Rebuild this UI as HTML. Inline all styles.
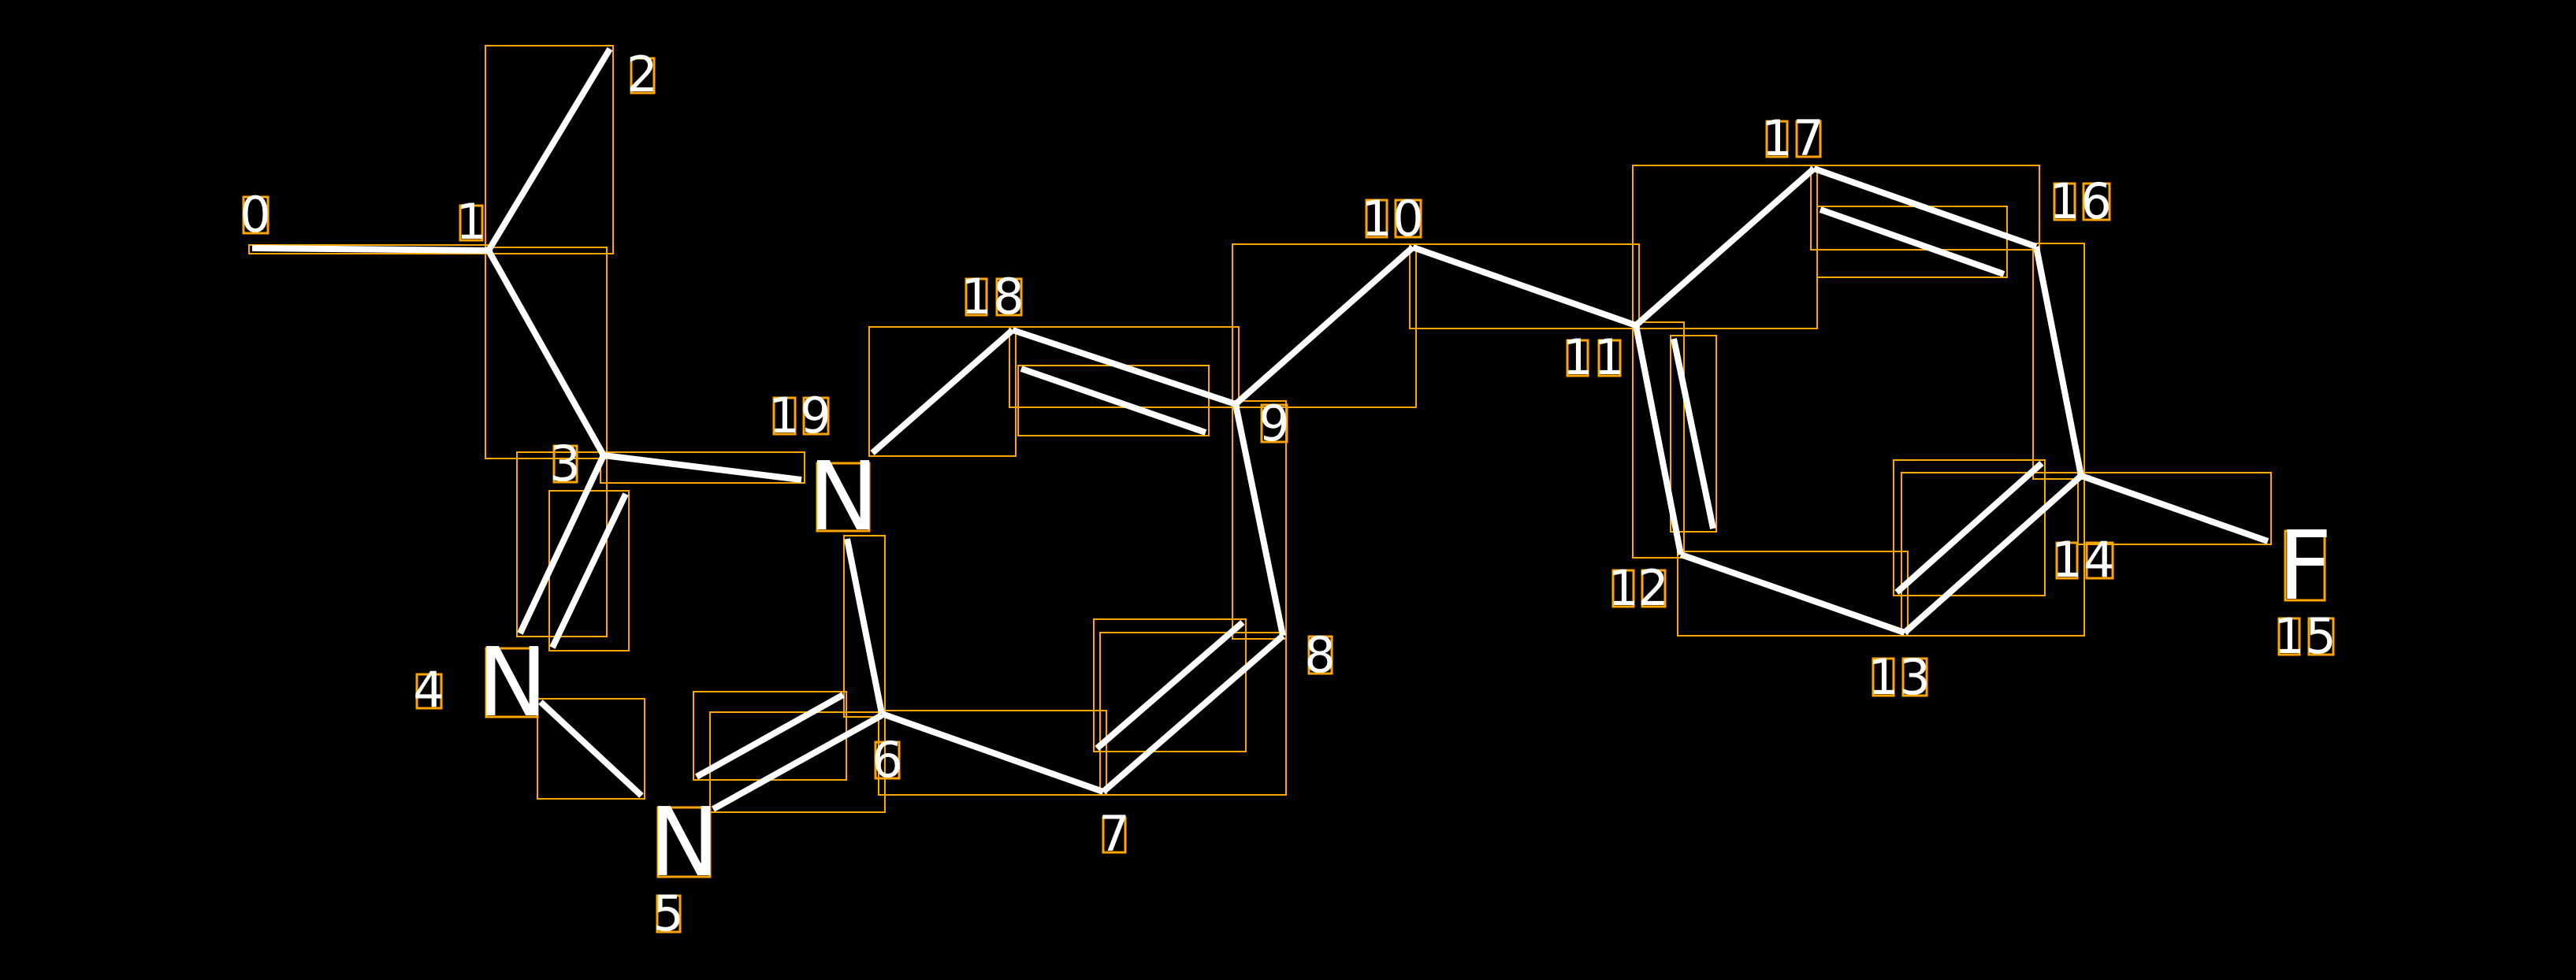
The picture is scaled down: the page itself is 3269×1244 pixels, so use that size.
<!DOCTYPE html>
<html><head><meta charset="utf-8"><style>
html,body{margin:0;padding:0;background:#000;width:3269px;height:1244px;overflow:hidden}
svg{display:block}
text{font-family:"DejaVu Sans","Liberation Sans",sans-serif;fill:#fff}
</style></head><body>
<svg id="s" width="3269" height="1244" xmlns="http://www.w3.org/2000/svg">
<rect width="3269" height="1244" fill="#000"/>
<g id="boxes" fill="none" stroke="#FFA500" stroke-width="2"></g>
<g id="bonds" stroke="#fff" stroke-width="8" stroke-linecap="butt"></g>
<g id="lbl" fill="none" stroke="#FFA500" stroke-width="3"></g>
<g font-size="62" text-anchor="middle">
<text x="324" y="294">0</text>
<text x="598" y="303">1</text>
<text x="815" y="116">2</text>
<text x="717" y="610">3</text>
<text x="544" y="897">4</text>
<text x="848" y="1181">5</text>
<text x="1126" y="986">6</text>
<text x="1414" y="1080">7</text>
<text x="1675" y="853">8</text>
<text x="1617" y="559">9</text>
<text x="1747" y="299">1</text><text x="1787" y="299">0</text>
<text x="2002" y="475">1</text><text x="2042" y="475">1</text>
<text x="2060" y="768">1</text><text x="2098" y="768">2</text>
<text x="2390" y="881">1</text><text x="2430" y="881">3</text>
<text x="2623" y="732">1</text><text x="2664" y="732">4</text>
<text x="2905" y="829">1</text><text x="2945" y="829">5</text>
<text x="2620" y="277">1</text><text x="2660" y="277">6</text>
<text x="2255" y="197">1</text><text x="2295" y="197">7</text>
<text x="1239" y="398">1</text><text x="1280" y="398">8</text>
<text x="995" y="549">1</text><text x="1035" y="549">9</text>
</g>
<g font-size="120" text-anchor="middle">
<text x="1070" y="672">N</text>
<text x="650" y="908">N</text>
<text x="868" y="1111">N</text>
<text x="2925" y="760">F</text>
</g>
</svg>
<script>
var NS="http://www.w3.org/2000/svg";
function el(p,t,a){var e=document.createElementNS(NS,t);for(var k in a)e.setAttribute(k,a[k]);p.appendChild(e);return e;}
var B=[[320,315,620,318],[620,318,774,62],[620,318,766,578],[766,578,1017,609],[766,578,660,804],[794,627,701,822],
[686,891,814,1010],[905,1027,1119,908],[884,986,1070,882],[1075,684,1119,906],[1119,906,1400,1005],[1400,1005,1628,807],
[1392,950,1577,790],[1628,807,1568,513],[1568,513,1285,419],[1530,549,1296,468],[1285,419,1107,575],[1568,513,1793,314],
[1793,314,2076,413],[2076,413,2302,214],[2302,214,2584,313],[2310,266,2543,348],[2584,313,2641,604],[2641,604,2878,687],
[2641,604,2417,803],[2591,588,2407,752],[2417,803,2133,704],[2133,704,2076,413],[2174,671,2124,430]];
var bx=document.getElementById('boxes'),bd=document.getElementById('bonds'),lb=document.getElementById('lbl');
B.forEach(function(b){
 el(bd,'line',{x1:b[0],y1:b[1],x2:b[2],y2:b[3]});
 var x=Math.min(b[0],b[2])-4,y=Math.min(b[1],b[3])-4;
 el(bx,'rect',{x:x,y:y,width:Math.abs(b[2]-b[0])+8,height:Math.abs(b[3]-b[1])+8});
});
var L=[[309,250,340,296],[584,261,612,305],[801,74,830,118],[703,566,732,612],[529,856,560,899],[834,1137,863,1183],
[1111,942,1141,988],[1400,1038,1428,1082],[1661,808,1690,855],[1601,514,1633,561],
[1734,254,1760,301],[1771,254,1803,301],[1989,432,2015,477],[2029,432,2056,477],[2047,724,2073,770],[2084,724,2113,770],
[2377,836,2403,883],[2415,836,2445,883],[2610,689,2636,734],[2648,689,2681,734],[2892,785,2918,831],[2930,785,2961,831],
[2607,233,2633,279],[2644,233,2677,279],[2242,154,2268,199],[2280,154,2310,199],[1226,354,1252,400],[1265,354,1296,400],
[982,505,1009,551],[1020,505,1051,551],[1037,588,1103,674],[617,823,682,910],[835,1025,901,1113],[2900,674,2950,762]];
L.forEach(function(r){el(lb,'rect',{x:r[0],y:r[1],width:r[2]-r[0],height:r[3]-r[1]});});
</script>
</body></html>
